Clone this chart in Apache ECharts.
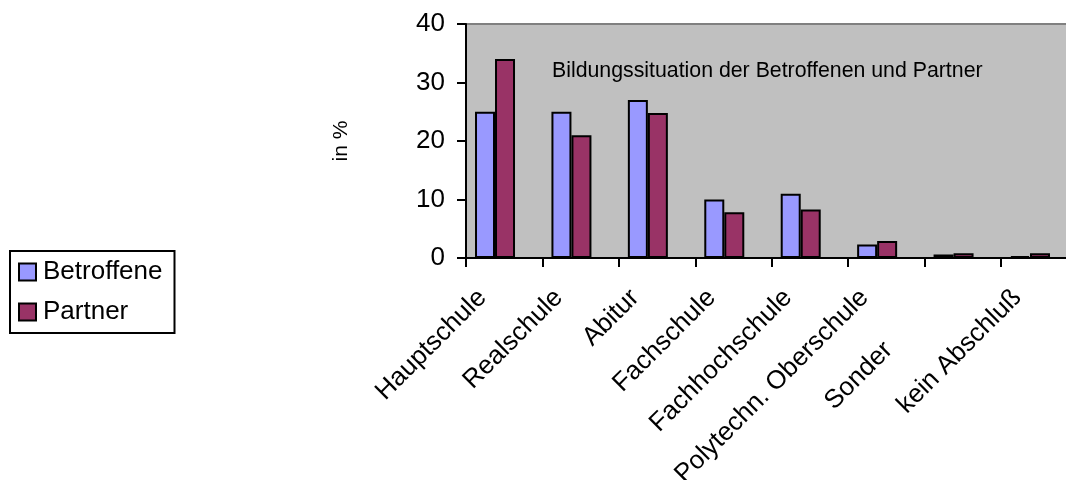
<!DOCTYPE html>
<html>
<head>
<meta charset="utf-8">
<script src="https://cdn.jsdelivr.net/npm/echarts@6/dist/echarts.min.js"></script>
<style>
  html, body { margin: 0; padding: 0; background: #ffffff; }
  #chart { width: 1066px; height: 480px; }
</style>
</head>
<body>
<div id="chart"></div>
<script>
// Education levels of the affected persons and their partners (percent)
const categories = ['Hauptschule', 'Realschule', 'Abitur', 'Fachschule', 'Fachhochschule', 'Polytechn. Oberschule', 'Sonder', 'kein Abschluß'];
const betroffene = [25, 25, 27, 10, 11, 2.3, 0.6, 0.3];
const partner    = [34, 21, 24.8, 7.8, 8.3, 2.9, 0.8, 0.8];
const yTicks = [0, 10, 20, 30, 40];

const FONT = '"Liberation Sans", Arial, Helvetica, sans-serif';
const yMin = yTicks[0], yMax = yTicks[yTicks.length - 1], yStep = yTicks[1] - yTicks[0];

const chart = echarts.init(document.getElementById('chart'), null, { renderer: 'canvas' });

chart.setOption({
  animation: false,
  backgroundColor: '#ffffff',
  title: {
    text: 'Bildungssituation der Betroffenen und Partner',
    left: 552,
    top: 61,
    padding: 0,
    textStyle: { fontFamily: FONT, fontSize: 21.3, fontWeight: 'normal', color: '#000000' }
  },
  legend: {
    orient: 'vertical',
    left: 10,
    top: 251,
    padding: [8, 12, 8, 8],
    itemGap: 14,
    itemWidth: 17,
    itemHeight: 17,
    icon: 'rect',
    backgroundColor: '#ffffff',
    borderColor: '#000000',
    borderWidth: 2,
    borderRadius: 0,
    textStyle: { fontFamily: FONT, fontSize: 26, color: '#000000', padding: [0, 0, 0, 2] },
    data: ['Betroffene', 'Partner']
  },
  grid: [
    // grid for the bars
    { left: 456.8, width: 611.4, top: 24, bottom: 222, containLabel: false, outerBoundsMode: 'none' },
    // plot frame: gray background, axes and ticks (runs past the right edge)
    { left: 466, width: 611.4, top: 24, bottom: 222, containLabel: false, outerBoundsMode: 'none',
      show: true, backgroundColor: '#c0c0c0', borderColor: '#808080', borderWidth: 2, z: 0 }
  ],
  xAxis: [
    {
      type: 'category', gridIndex: 0, data: categories,
      axisLine: { show: false }, axisTick: { show: false },
      axisLabel: {
        interval: 0, rotate: 45, margin: 23,
        fontFamily: FONT, fontSize: 26, color: '#000000',
        padding: [0, 18, 0, 0],
        formatter: v => v === 'Sonder' ? '{s|' + v + '}' : v,
        rich: { s: { fontFamily: FONT, fontSize: 26, color: '#000000', padding: [0, 74, 0, 0] } }
      }
    },
    {
      type: 'category', gridIndex: 1, data: categories,
      axisLine: { show: true, lineStyle: { color: '#000000', width: 2 } },
      axisTick: { show: true, interval: 0, inside: false, length: 9, lineStyle: { color: '#000000', width: 2 } },
      axisLabel: { show: false },
      z: 5
    }
  ],
  yAxis: [
    {
      type: 'value', gridIndex: 0, min: yMin, max: yMax, interval: yStep, show: false
    },
    {
      type: 'value', gridIndex: 1, min: yMin, max: yMax, interval: yStep,
      name: 'in %', nameLocation: 'middle', nameGap: 114, nameRotate: 90,
      nameTextStyle: { fontFamily: FONT, fontSize: 21, color: '#000000' },
      axisLine: { show: true, lineStyle: { color: '#000000', width: 2 } },
      axisTick: { show: true, inside: false, length: 9, lineStyle: { color: '#000000', width: 2 } },
      axisLabel: { margin: 21, fontFamily: FONT, fontSize: 26, color: '#000000' },
      splitLine: { show: false },
      z: 5
    }
  ],
  series: [
    {
      name: 'Betroffene', type: 'bar', xAxisIndex: 0, yAxisIndex: 0,
      data: betroffene, barWidth: 20, barGap: '0%',
      itemStyle: { color: '#9999ff', borderColor: '#000000', borderWidth: 2 },
      z: 3
    },
    {
      name: 'Partner', type: 'bar', xAxisIndex: 0, yAxisIndex: 0,
      data: partner, barWidth: 20, barGap: '0%',
      itemStyle: { color: '#993366', borderColor: '#000000', borderWidth: 2 },
      z: 3
    }
  ]
});
</script>
</body>
</html>
